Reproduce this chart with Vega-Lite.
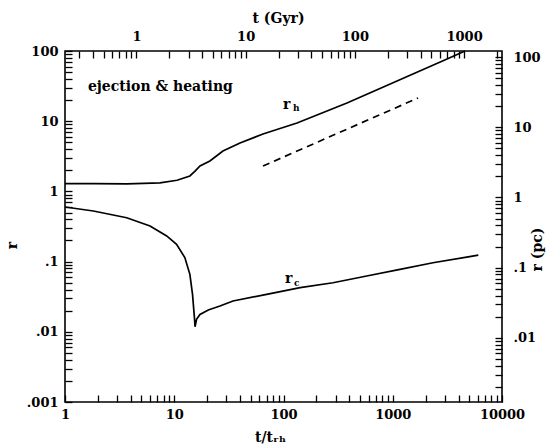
{
  "$schema": "https://vega.github.io/schema/vega-lite/v6.json",
  "width": 437,
  "height": 351,
  "autosize": {"type": "none"},
  "padding": {"left": 65, "top": 51, "right": 47, "bottom": 46},
  "background": "white",
  "config": {
    "view": {"stroke": "black", "strokeWidth": 1.6},
    "axis": {
      "grid": false,
      "ticks": true,
      "domain": false,
      "tickColor": "black",
      "tickWidth": 1.3,
      "labelColor": "black",
      "labelFont": "DejaVu Serif",
      "labelFontWeight": "bold",
      "labelFontSize": 13,
      "labelFlush": false,
      "labelOverlap": false,
      "labelBound": false,
      "titleColor": "black",
      "titleFont": "DejaVu Serif",
      "titleFontWeight": "bold",
      "titleFontSize": 14
    }
  },
  "datasets": {
    "solid": [
      {"s": "rh", "t": 1, "r": 1.29},
      {"s": "rh", "t": 1.8, "r": 1.29},
      {"s": "rh", "t": 3.7, "r": 1.28},
      {"s": "rh", "t": 7.4, "r": 1.32},
      {"s": "rh", "t": 10.6, "r": 1.44},
      {"s": "rh", "t": 13.9, "r": 1.66},
      {"s": "rh", "t": 15.5, "r": 1.95},
      {"s": "rh", "t": 17.2, "r": 2.3},
      {"s": "rh", "t": 21.2, "r": 2.71},
      {"s": "rh", "t": 27.9, "r": 3.76},
      {"s": "rh", "t": 40, "r": 4.9},
      {"s": "rh", "t": 64.9, "r": 6.57},
      {"s": "rh", "t": 133, "r": 9.42},
      {"s": "rh", "t": 381, "r": 18.2},
      {"s": "rh", "t": 1094, "r": 37.4},
      {"s": "rh", "t": 3140, "r": 76.9},
      {"s": "rh", "t": 4580, "r": 100},
      {"s": "rc", "t": 1, "r": 0.6},
      {"s": "rc", "t": 1.82, "r": 0.526},
      {"s": "rc", "t": 3.67, "r": 0.422},
      {"s": "rc", "t": 6.0, "r": 0.321},
      {"s": "rc", "t": 8.53, "r": 0.232},
      {"s": "rc", "t": 10.5, "r": 0.176},
      {"s": "rc", "t": 12.5, "r": 0.114},
      {"s": "rc", "t": 13.9, "r": 0.0659},
      {"s": "rc", "t": 14.7, "r": 0.0342},
      {"s": "rc", "t": 15.3, "r": 0.0159},
      {"s": "rc", "t": 15.5, "r": 0.0118},
      {"s": "rc", "t": 16.0, "r": 0.0151},
      {"s": "rc", "t": 17.2, "r": 0.0177},
      {"s": "rc", "t": 20.5, "r": 0.0205},
      {"s": "rc", "t": 26.2, "r": 0.0233},
      {"s": "rc", "t": 34.5, "r": 0.0275},
      {"s": "rc", "t": 70.1, "r": 0.0342},
      {"s": "rc", "t": 142, "r": 0.0425},
      {"s": "rc", "t": 284, "r": 0.05},
      {"s": "rc", "t": 578, "r": 0.0624},
      {"s": "rc", "t": 1165, "r": 0.0776},
      {"s": "rc", "t": 2335, "r": 0.0964},
      {"s": "rc", "t": 4750, "r": 0.116},
      {"s": "rc", "t": 6070, "r": 0.124}
    ],
    "dashed": [
      {"t": 64.9, "r": 2.3},
      {"t": 1703, "r": 21.4}
    ],
    "note": [
      {"t": 1.62, "r": 30.7, "text": "ejection & heating", "kind": "big"},
      {"t": 98.9, "r": 17.0, "text": "r", "kind": "big"},
      {"t": 122, "r": 15.2, "text": "h", "kind": "small"},
      {"t": 103, "r": 0.0565, "text": "r", "kind": "big"},
      {"t": 125, "r": 0.0495, "text": "c", "kind": "small"}
    ],
    "anchor": [
      {"t": 10, "r": 1, "tgyr": 1, "rpc": 1}
    ]
  },
  "layer": [
    {
      "encoding": {
        "x": {
          "field": "t",
          "type": "quantitative",
          "scale": {"type": "log", "domain": [1, 10000], "nice": false},
          "axis": {
            "orient": "bottom",
            "offset": -7,
            "title": "t/tᵣₕ",
            "titleX": 205,
            "titleY": 42,
            "titleBaseline": "middle",
            "values": [1,2,3,4,5,6,7,8,9,10,20,30,40,50,60,70,80,90,100,200,300,400,500,600,700,800,900,1000,2000,3000,4000,5000,6000,7000,8000,9000,10000],
            "labelExpr": "indexof([1,10,100,1000,10000], datum.value) >= 0 ? format(datum.value, 'd') : ''",
            "tickSize": 7,
            "labelPadding": 6
          }
        },
        "y": {
          "field": "r",
          "type": "quantitative",
          "scale": {"type": "log", "domain": [0.001, 100], "nice": false},
          "axis": {
            "orient": "left",
            "offset": -7,
            "title": "r",
            "titleX": -60,
            "titleY": 194,
            "titleBaseline": "middle",
            "values": [0.001,0.002,0.003,0.004,0.005,0.006,0.007,0.008,0.009,0.01,0.02,0.03,0.04,0.05,0.06,0.07,0.08,0.09,0.1,0.2,0.3,0.4,0.5,0.6,0.7,0.8,0.9,1,2,3,4,5,6,7,8,9,10,20,30,40,50,60,70,80,90,100],
            "labelExpr": "datum.value == 0.001 ? '.001' : datum.value == 0.01 ? '.01' : datum.value == 0.1 ? '.1' : indexof([1,10,100], datum.value) >= 0 ? format(datum.value, 'd') : ''",
            "tickSize": 7,
            "labelPadding": 7
          }
        }
      },
      "layer": [
        {
          "data": {"name": "solid"},
          "mark": {"type": "line", "color": "black", "strokeWidth": 1.7},
          "encoding": {"detail": {"field": "s"}}
        },
        {
          "data": {"name": "dashed"},
          "mark": {"type": "line", "color": "black", "strokeWidth": 1.7, "strokeDash": [7, 5]},
          "encoding": {}
        },
        {
          "data": {"name": "note"},
          "mark": {"type": "text", "font": "DejaVu Serif", "fontWeight": "bold", "color": "black", "align": "left", "baseline": "middle"},
          "encoding": {
            "text": {"field": "text"},
            "size": {"field": "kind", "type": "nominal", "scale": {"domain": ["big", "small"], "range": [14, 9]}, "legend": null}
          }
        }
      ]
    },
    {
      "data": {"name": "anchor"},
      "mark": {"type": "point", "opacity": 0},
      "encoding": {
        "x": {
          "field": "tgyr",
          "type": "quantitative",
          "scale": {"type": "log", "domain": [0.222, 2222], "nice": false},
          "axis": {
            "orient": "top",
            "offset": -7,
            "title": "t (Gyr)",
            "titleX": 213,
            "titleY": -40,
            "titleBaseline": "middle",
            "values": [0.3,0.4,0.5,0.6,0.7,0.8,0.9,1,2,3,4,5,6,7,8,9,10,20,30,40,50,60,70,80,90,100,200,300,400,500,600,700,800,900,1000,2000],
            "labelExpr": "indexof([1,10,100,1000], datum.value) >= 0 ? format(datum.value, 'd') : ''",
            "tickSize": 7,
            "labelPadding": 8
          }
        },
        "y": {
          "field": "rpc",
          "type": "quantitative",
          "scale": {"type": "log", "domain": [0.00122, 122], "nice": false},
          "axis": {
            "orient": "right",
            "offset": -7,
            "title": "r (pc)",
            "titleX": 42,
            "titleY": 198,
            "titleAngle": 270,
            "titleBaseline": "middle",
            "values": [0.002,0.003,0.004,0.005,0.006,0.007,0.008,0.009,0.01,0.02,0.03,0.04,0.05,0.06,0.07,0.08,0.09,0.1,0.2,0.3,0.4,0.5,0.6,0.7,0.8,0.9,1,2,3,4,5,6,7,8,9,10,20,30,40,50,60,70,80,90,100],
            "labelExpr": "datum.value == 0.01 ? '.01' : datum.value == 0.1 ? '.1' : indexof([1,10,100], datum.value) >= 0 ? format(datum.value, 'd') : ''",
            "tickSize": 7,
            "labelPadding": 11
          }
        }
      }
    }
  ],
  "resolve": {"scale": {"x": "independent", "y": "independent"}}
}
